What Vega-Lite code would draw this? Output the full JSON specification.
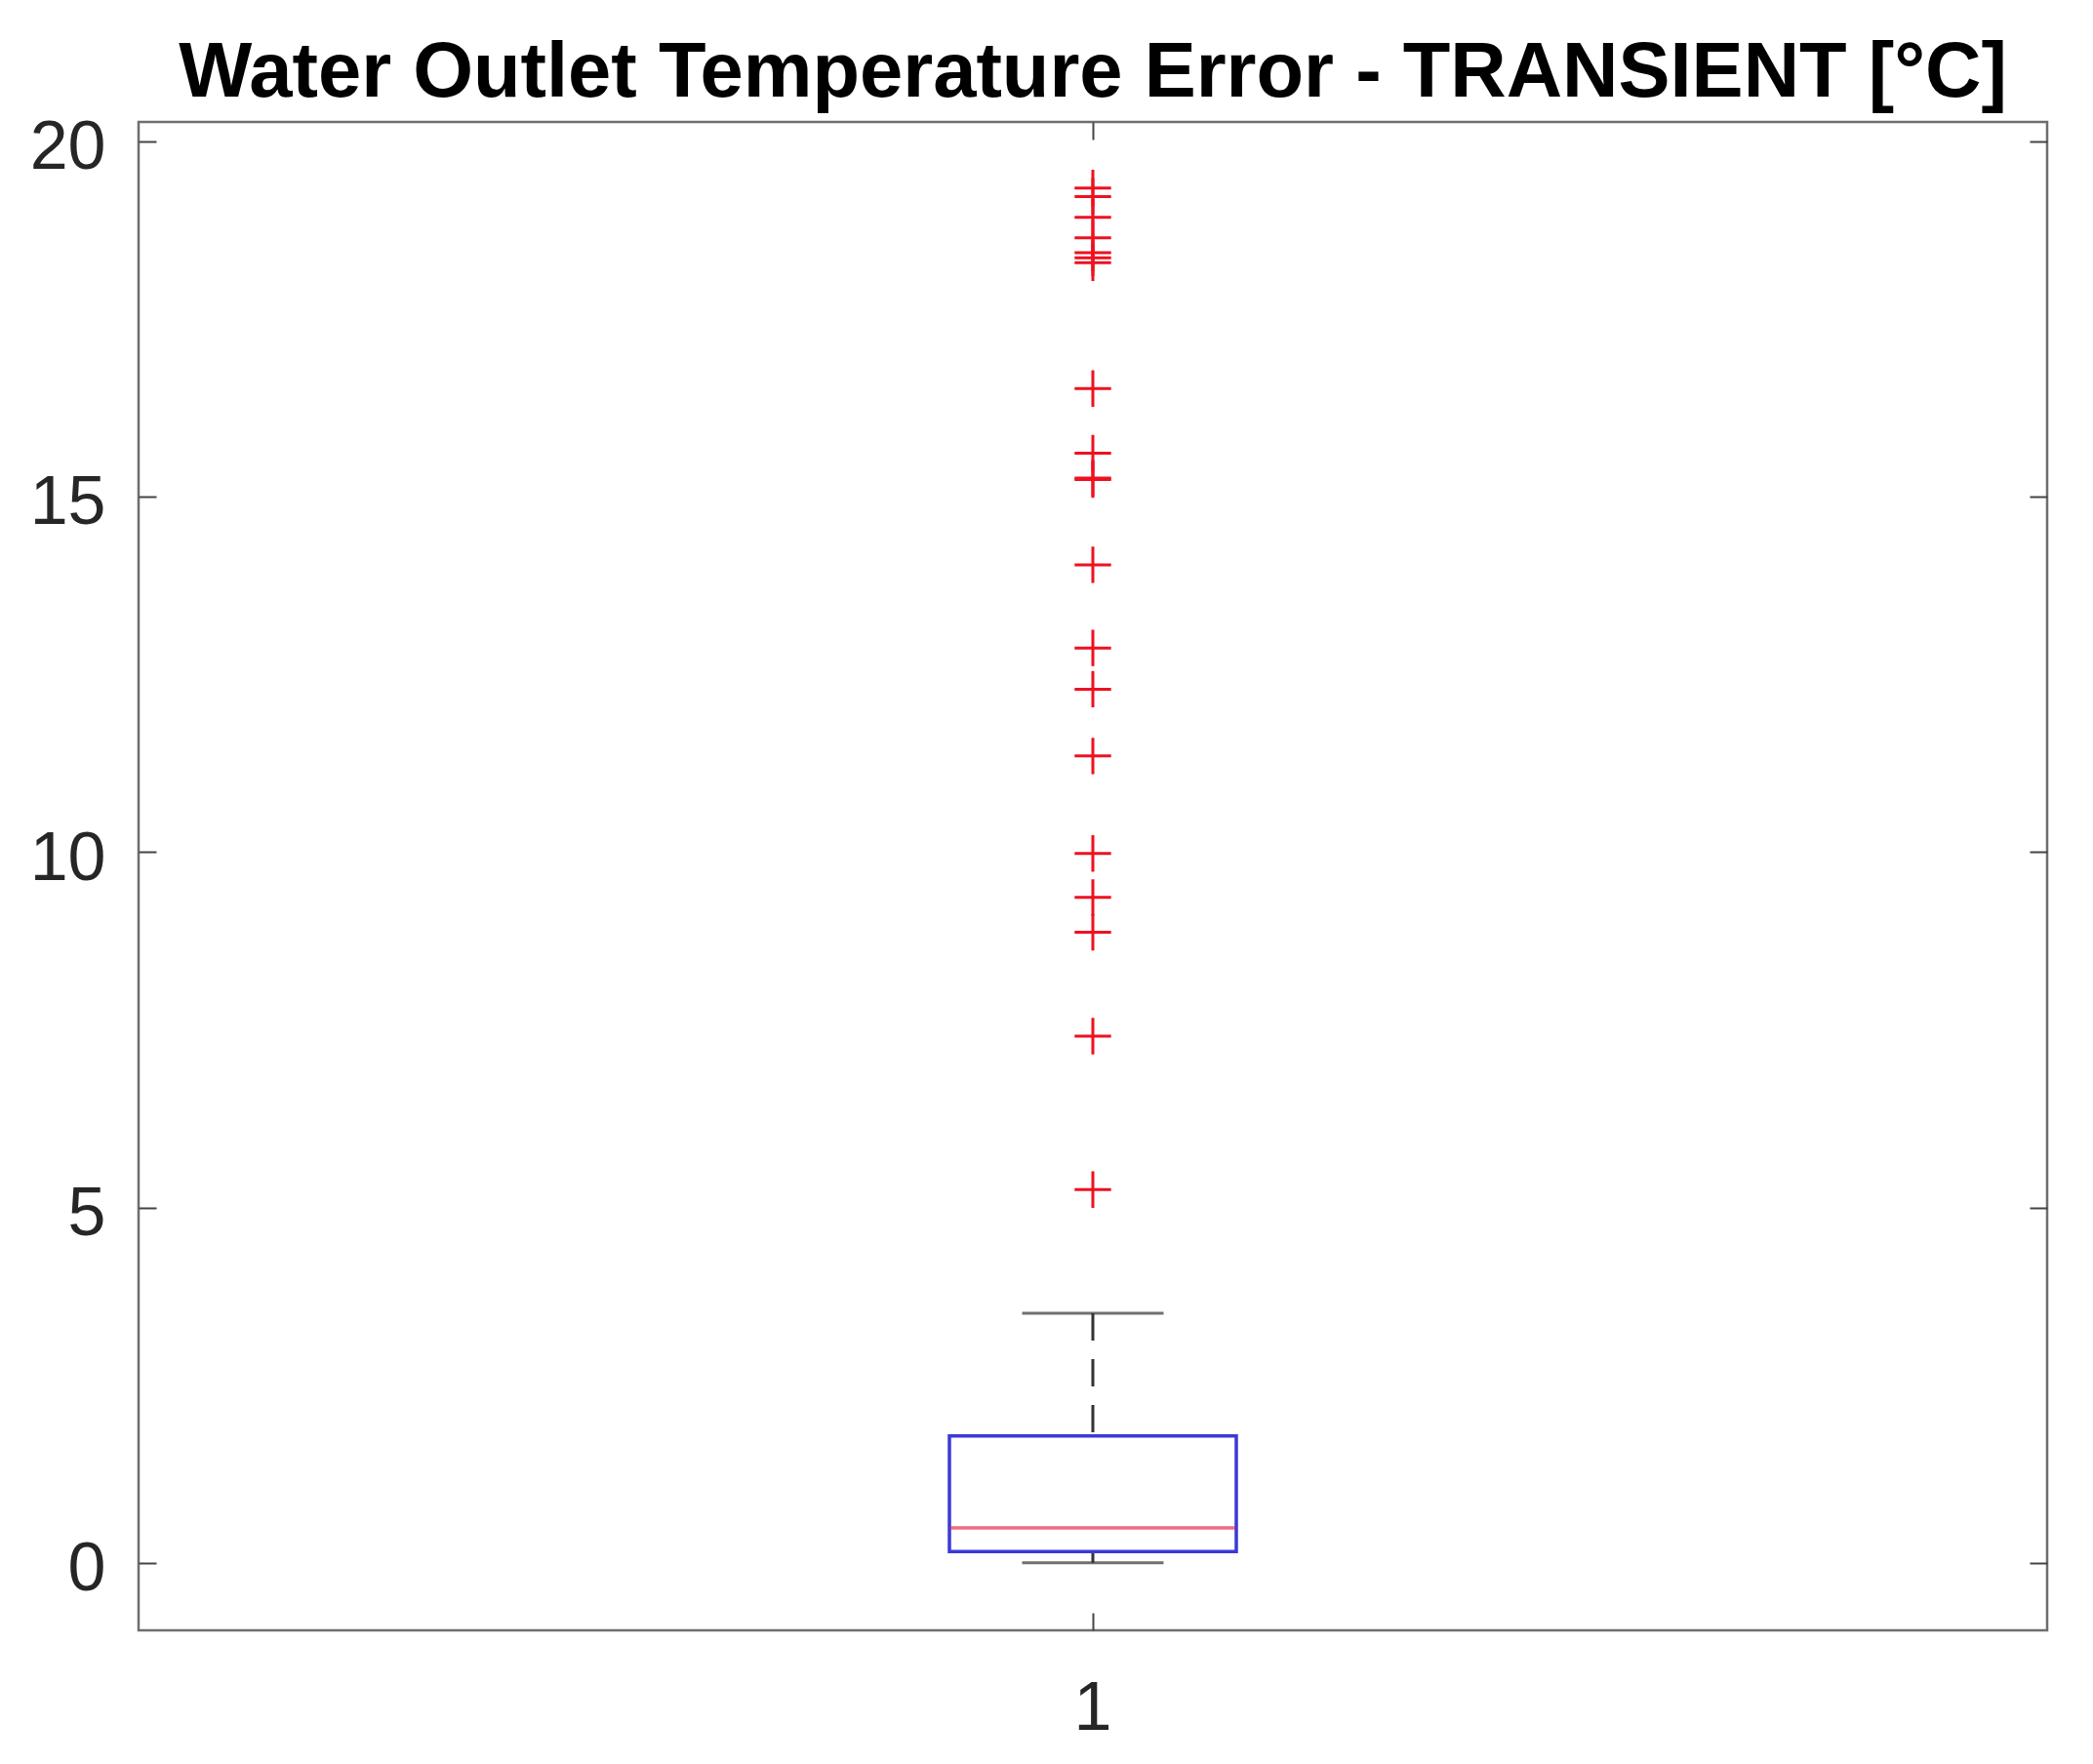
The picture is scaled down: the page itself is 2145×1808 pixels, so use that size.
{
  "$schema": "https://vega.github.io/schema/vega-lite/v6.json",
  "autosize": {"type": "none"},
  "padding": {"left": 142, "top": 125, "right": 47, "bottom": 137},
  "width": 1956,
  "height": 1546,
  "background": "white",
  "title": {
    "text": "Water Outlet Temperature Error - TRANSIENT [°C]",
    "font": "Liberation Sans",
    "fontSize": 79.5,
    "fontWeight": "bold",
    "color": "#000000",
    "anchor": "middle",
    "frame": "group",
    "offset": 1
  },
  "config": {
    "view": {"stroke": "#6e6e6e", "strokeWidth": 2.5},
    "axis": {
      "labelFont": "Liberation Sans",
      "labelFontSize": 70,
      "labelColor": "#262626",
      "tickColor": "#444444",
      "tickWidth": 2,
      "domain": false,
      "grid": false,
      "title": null
    }
  },
  "datasets": {
    "summary": [
      {"group": "1", "lower": 0.0, "q1": 0.16, "median": 0.49, "q3": 1.785, "upper": 3.51}
    ],
    "outliers": [
      {"group": "1", "value": 19.34},
      {"group": "1", "value": 19.22},
      {"group": "1", "value": 18.93},
      {"group": "1", "value": 18.64},
      {"group": "1", "value": 18.43},
      {"group": "1", "value": 18.36},
      {"group": "1", "value": 18.29},
      {"group": "1", "value": 16.52},
      {"group": "1", "value": 15.61},
      {"group": "1", "value": 15.26},
      {"group": "1", "value": 15.24},
      {"group": "1", "value": 14.04},
      {"group": "1", "value": 12.87},
      {"group": "1", "value": 12.29},
      {"group": "1", "value": 11.35},
      {"group": "1", "value": 9.98},
      {"group": "1", "value": 9.36},
      {"group": "1", "value": 8.87},
      {"group": "1", "value": 7.41},
      {"group": "1", "value": 5.25}
    ]
  },
  "resolve": {"axis": {"x": "independent", "y": "independent"}},
  "layer": [
    {
      "data": {"name": "summary"},
      "mark": {"type": "rule", "color": "#333333", "strokeWidth": 3, "strokeDash": [28, 19]},
      "encoding": {
        "x": {"field": "group", "type": "nominal", "scale": {"paddingInner": 0, "paddingOuter": 0},
              "axis": {"orient": "bottom", "labelAngle": 0, "tickSize": -18, "labelPadding": 64}},
        "y": {"field": "upper", "type": "quantitative", "scale": {"domain": [-0.95, 20.27], "nice": false, "zero": false},
              "axis": {"orient": "left", "values": [0, 5, 10, 15, 20], "tickSize": -18, "labelPadding": 52, "labelOffset": 7}},
        "y2": {"field": "q3"}
      }
    },
    {
      "data": {"name": "summary"},
      "mark": {"type": "rule", "color": "#333333", "strokeWidth": 3},
      "encoding": {
        "x": {"field": "group", "type": "nominal",
              "axis": {"orient": "top", "labels": false, "tickSize": -18}},
        "y": {"field": "lower", "type": "quantitative",
              "axis": {"orient": "right", "labels": false, "values": [0, 5, 10, 15, 20], "tickSize": -18}},
        "y2": {"field": "q1"}
      }
    },
    {
      "data": {"name": "summary"},
      "mark": {"type": "tick", "color": "#333333", "thickness": 3, "size": 145},
      "encoding": {
        "x": {"field": "group", "type": "nominal", "axis": null},
        "y": {"field": "upper", "type": "quantitative", "axis": null}
      }
    },
    {
      "data": {"name": "summary"},
      "mark": {"type": "tick", "color": "#333333", "thickness": 3, "size": 145},
      "encoding": {
        "x": {"field": "group", "type": "nominal", "axis": null},
        "y": {"field": "lower", "type": "quantitative", "axis": null}
      }
    },
    {
      "data": {"name": "summary"},
      "mark": {"type": "bar", "fill": "white", "stroke": "#3a3ad8", "strokeWidth": 3.5, "size": 294},
      "encoding": {
        "x": {"field": "group", "type": "nominal", "axis": null},
        "y": {"field": "q1", "type": "quantitative", "axis": null},
        "y2": {"field": "q3"}
      }
    },
    {
      "data": {"name": "summary"},
      "mark": {"type": "tick", "color": "#e8304a", "thickness": 3.5, "size": 292},
      "encoding": {
        "x": {"field": "group", "type": "nominal", "axis": null},
        "y": {"field": "median", "type": "quantitative", "axis": null}
      }
    },
    {
      "data": {"name": "outliers"},
      "mark": {"type": "point", "shape": "M-1,0H1M0,-1V1", "filled": false, "stroke": "#f01020", "strokeWidth": 3, "size": 1400, "opacity": 1},
      "encoding": {
        "x": {"field": "group", "type": "nominal", "axis": null},
        "y": {"field": "value", "type": "quantitative", "axis": null}
      }
    }
  ]
}
